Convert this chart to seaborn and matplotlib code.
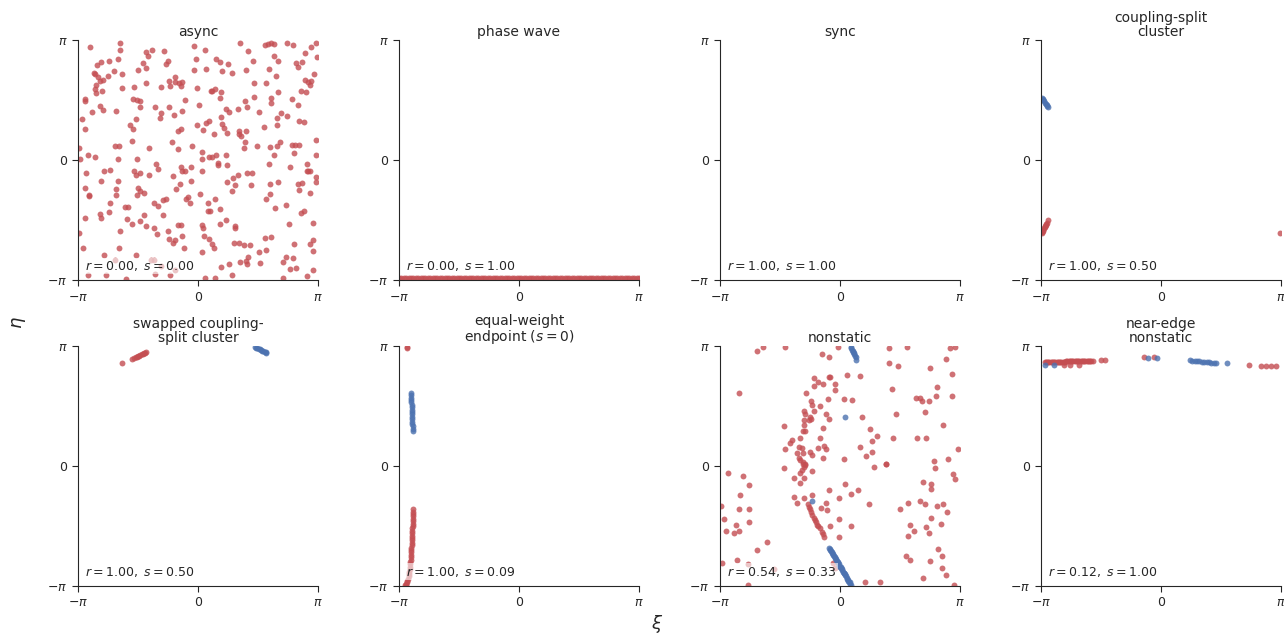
import numpy as np
import matplotlib
matplotlib.use("Agg")
import matplotlib.pyplot as plt
import seaborn as sns

# all values in units of pi (xi, eta)

# async (red only)
async_xi = [-0.90, -0.65, -0.65, -0.43, -0.38, -0.42, -0.28, -0.03, 0.06, 0.35, 0.42, 0.56, 0.58, 0.61, 0.63,
            0.74, 0.79, 0.89, 0.94, 0.98, 0.99, 0.63, 0.67, 0.82, 0.87, 0.83, 0.46, 0.15, 0.18, 0.25, -0.02,
            -0.25, -0.27, -0.46, -0.67, -0.74, -0.81, -0.84, -0.87, -0.86, -0.83, -0.82, -0.79, -0.75, -0.70,
            -0.63, -0.50, -0.43, -0.03, 0.07, 0.20, 0.28, 0.40, 0.59, 0.65, 0.97, 0.89, 0.92, 0.93, 0.86, 0.67,
            0.57, 0.47, -0.85, -0.86, -0.85, -0.80, -0.94, -0.94, -0.63, -0.53, -0.43, -0.31, -0.24, -0.23,
            -0.19, -0.19, -0.16, -0.13, -0.14, -0.01, 0.11, 0.12, 0.14, 0.19, 0.18, -0.11, 0.01, -0.54, -0.51,
            -0.48, -0.48, -0.36, -0.24, -0.13, -0.20, -0.31, -0.32, -0.52, -0.68, -0.79, -0.82, -0.88, -0.97,
            -0.94, -0.57, -0.54, -0.55, -0.69, -0.66, -0.41, -0.22, -0.17, -0.17, -0.14, -0.05, 0.03, -0.01,
            0.07, 0.09, 0.04, 0.13, 0.19, 0.20, 0.22, 0.24, 0.23, 0.26, 0.33, 0.39, 0.41, 0.47, 0.51, 0.61,
            0.61, 0.78, 0.83, 0.69, 0.74, 0.66, 0.66, 0.84, 0.88, 0.55, 0.34, 0.34, 0.36, 0.40, 0.39, 0.38,
            0.49, 0.60, 0.66, 0.68, 0.78, 0.81, 0.84, 0.80, 0.63, 0.98, 0.98, 0.23, 0.15, 0.12, 0.09, 0.03,
            -0.67, -0.51, -0.86, -0.92, -0.98, -0.99, 0.90, 0.94,
            -0.93, -0.78, -0.73, -0.53, -0.52, -0.48, -0.41, -0.35, -0.33, -0.21, -0.14, -0.13, -0.11, -0.06,
            0.03, 0.17, 0.17, 0.24, 0.33, 0.29, 0.24, 0.41, 0.45, 0.44, 0.59, 0.60, 0.67, 0.77, 0.83, 0.87,
            0.91, 0.91, 0.92, 0.93, 0.98, 0.98, 0.84, 0.93, -0.94, -0.91, -0.91, -0.81, -0.67, -0.68, -0.68,
            -0.73, -0.74, -0.82, -0.81, -0.94, -0.99, -0.96, -0.78, -0.66, -0.65, -0.59, -0.61, -0.58, -0.55,
            -0.48, -0.45, -0.43, -0.37, -0.34, -0.25, -0.24, -0.21, -0.19, -0.13, -0.17, -0.14, -0.12, -0.29,
            -0.33, -0.37, -0.29, -0.27, -0.18, -0.15, -0.06, 0.02, 0.03, 0.04, 0.05, 0.09, 0.12, 0.03, 0.13,
            0.18, 0.23, 0.31, 0.31, 0.30, 0.34, 0.38, 0.43, 0.42, 0.40, 0.41, 0.35, 0.26, 0.19, 0.28, 0.14,
            0.06, -0.19, -0.23, -0.31, -0.37, -0.39, -0.36, -0.52, -0.60, -0.69, -0.77, -0.92, 0.56, 0.61,
            0.57, 0.51, 0.52, 0.71, 0.73, 0.79, 0.77, 0.82, 0.96, 0.96, 0.93, 0.80, 0.76, 0.86, 0.88, 0.96,
            0.64, 0.73, 0.57, 0.60, 0.71, 0.91, 0.96, -0.48, -0.50, -0.45, -0.51, -0.10, -0.08, -0.07, 0.08,
            0.10, 0.08, 0.18, 0.28, 0.31, 0.14]
async_eta = [0.94, 0.98, 0.92, 0.90, 0.92, 0.87, 0.91, 0.95, 0.92, 0.98, 0.91, 0.96, 0.97, 0.98, 0.97,
             0.98, 0.96, 0.89, 0.94, 0.98, 0.86, 0.87, 0.83, 0.81, 0.82, 0.78, 0.83, 0.84, 0.82, 0.80, 0.84,
             0.83, 0.80, 0.81, 0.84, 0.83, 0.82, 0.79, 0.73, 0.72, 0.69, 0.66, 0.67, 0.70, 0.74,
             0.72, 0.75, 0.77, 0.75, 0.76, 0.74, 0.73, 0.75, 0.76, 0.70, 0.72, 0.67, 0.65, 0.63, 0.58, 0.57,
             0.64, 0.64, 0.63, 0.59, 0.56, 0.58, 0.51, 0.49, 0.60, 0.61, 0.64, 0.61, 0.66, 0.62,
             0.69, 0.65, 0.64, 0.65, 0.62, 0.60, 0.58, 0.58, 0.59, 0.57, 0.52, 0.50, 0.46, 0.51, 0.50,
             0.49, 0.44, 0.44, 0.44, 0.41, 0.38, 0.39, 0.35, 0.34, 0.41, 0.42, 0.45, 0.40, 0.34,
             0.26, 0.29, 0.26, 0.16, 0.12, 0.12, 0.10, 0.15, 0.09, 0.24, 0.26, 0.12, 0.07, 0.29,
             0.31, 0.33, 0.25, 0.22, 0.36, 0.30, 0.27, 0.23, 0.43, 0.40, 0.43, 0.49, 0.44, 0.53, 0.40, 0.52,
             0.48, 0.51, 0.46, 0.39, 0.37, 0.35, 0.29, 0.33, 0.32, 0.28, 0.24, 0.22, 0.20, 0.24, 0.15, 0.10,
             0.12, 0.11, 0.12, 0.15, 0.13, 0.13, 0.13, 0.06, 0.04, 0.17, 0.04, 0.04, 0.04, 0.03, 0.03, 0.01,
             0.01, 0.01, 0.03, 0.04, 0.01, 0.10, 0.57, 0.66,
             -0.11, -0.09, -0.08, -0.09, -0.12, -0.11, -0.12, -0.03, -0.07, -0.13, -0.06, -0.09, -0.09, -0.06,
             -0.09, -0.02, -0.04, -0.04, -0.12, -0.15, -0.18, -0.11, -0.11, -0.21, -0.03, -0.20, -0.18, -0.06,
             -0.20, -0.19, -0.09, -0.03, -0.09, -0.09, -0.14, -0.18, -0.25, -0.27, -0.23, -0.29, -0.30, -0.17,
             -0.17, -0.24, -0.29, -0.36, -0.43, -0.45, -0.48, -0.48, -0.61, -0.73, -0.79, -0.73, -0.59, -0.49,
             -0.39, -0.39, -0.53, -0.51, -0.46, -0.55, -0.57, -0.62, -0.59, -0.66, -0.69, -0.67, -0.63, -0.54,
             -0.54, -0.73, -0.46, -0.38, -0.36, -0.33, -0.32, -0.24, -0.20, -0.17, -0.28, -0.54, -0.57, -0.63,
             -0.66, -0.70, -0.77, -0.73, -0.53, -0.50, -0.55, -0.57, -0.69, -0.69, -0.71, -0.71, -0.81, -0.84,
             -0.87, -0.85, -0.87, -0.89, -0.96, -0.98, -0.98, -0.92, -0.96, -0.88, -0.83, -0.83, -0.95, -0.79,
             -0.99, -0.83, -0.96, -0.96, -0.65, -0.64, -0.75, -0.77, -0.86, -0.85, -0.81, -0.82, -0.91, -0.90,
             -0.76, -0.67, -0.70, -0.70, -0.53, -0.44, -0.42, -0.52, -0.40, -0.37, -0.32, -0.28, -0.98, -0.97,
             -0.92, -0.26, -0.23, -0.27, -0.29, -0.32, -0.31, -0.36, -0.36, -0.42, -0.42, -0.41, -0.26, -0.21,
             -0.32]

# phase wave (dense red line along the bottom edge)
wave_xi = [-1.00, -0.98, -0.96, -0.94, -0.92, -0.90, -0.88, -0.86, -0.84, -0.82, -0.80, -0.78, -0.76, -0.74,
           -0.72, -0.70, -0.68, -0.66, -0.64, -0.62, -0.60, -0.58, -0.56, -0.54, -0.52, -0.50, -0.48, -0.46,
           -0.44, -0.42, -0.40, -0.38, -0.36, -0.34, -0.32, -0.30, -0.28, -0.26, -0.24, -0.22, -0.20, -0.18,
           -0.16, -0.14, -0.12, -0.10, -0.08, -0.06, -0.04, -0.02, 0.00, 0.02, 0.04, 0.06, 0.08, 0.10, 0.12,
           0.14, 0.16, 0.18, 0.20, 0.22, 0.24, 0.26, 0.28, 0.30, 0.32, 0.34, 0.36, 0.38, 0.40, 0.42, 0.44,
           0.46, 0.48, 0.50, 0.52, 0.54, 0.56, 0.58, 0.60, 0.62, 0.64, 0.66, 0.68, 0.70, 0.72, 0.74, 0.76,
           0.78, 0.80, 0.82, 0.84, 0.86, 0.88, 0.90, 0.92, 0.94, 0.96, 0.98, 1.00]
wave_eta = [-0.98, -0.98, -0.98, -0.98, -0.98, -0.98, -0.98, -0.98, -0.98, -0.98, -0.98, -0.98, -0.98, -0.98,
            -0.98, -0.98, -0.98, -0.98, -0.98, -0.98, -0.98, -0.98, -0.98, -0.98, -0.98, -0.98, -0.98, -0.98,
            -0.98, -0.98, -0.98, -0.98, -0.98, -0.98, -0.98, -0.98, -0.98, -0.98, -0.98, -0.98, -0.98, -0.98,
            -0.98, -0.98, -0.98, -0.98, -0.98, -0.98, -0.98, -0.98, -0.98, -0.98, -0.98, -0.98, -0.98, -0.98,
            -0.98, -0.98, -0.98, -0.98, -0.98, -0.98, -0.98, -0.98, -0.98, -0.98, -0.98, -0.98, -0.98, -0.98,
            -0.98, -0.98, -0.98, -0.98, -0.98, -0.98, -0.98, -0.98, -0.98, -0.98, -0.98, -0.98, -0.98, -0.98,
            -0.98, -0.98, -0.98, -0.98, -0.98, -0.98, -0.98, -0.98, -0.98, -0.98, -0.98, -0.98, -0.98, -0.98,
            -0.98, -0.98, -0.98]

# coupling-split cluster
split_red_xi = [-0.995, -0.99, -0.985, -0.98, -0.975, -0.97, -0.965, -0.96, -0.955, -0.95, -0.945, 0.99]
split_red_eta = [-0.61, -0.60, -0.59, -0.58, -0.57, -0.56, -0.55, -0.54, -0.53, -0.52, -0.50, -0.61]
split_blue_xi = [-0.994, -0.987, -0.98, -0.973, -0.967, -0.96, -0.953, -0.947, -0.942]
split_blue_eta = [0.52, 0.51, 0.50, 0.49, 0.48, 0.47, 0.46, 0.45, 0.44]

# swapped coupling-split cluster
swap_red_xi = [-0.63, -0.55, -0.53, -0.52, -0.51, -0.50, -0.49, -0.48, -0.47, -0.46, -0.45, -0.44, -0.43]
swap_red_eta = [0.86, 0.89, 0.90, 0.905, 0.91, 0.915, 0.92, 0.925, 0.93, 0.935, 0.94, 0.945, 0.95]
swap_blue_xi = [0.475, 0.485, 0.495, 0.505, 0.515, 0.525, 0.535, 0.545, 0.555, 0.565, 0.57]
swap_blue_eta = [0.99, 0.986, 0.982, 0.978, 0.973, 0.968, 0.963, 0.958, 0.953, 0.948, 0.945]

# equal-weight endpoint
equal_red_xi = [-0.936, -0.932, -0.880, -0.881, -0.882, -0.883, -0.884, -0.885, -0.886, -0.887, -0.888,
                -0.889, -0.890, -0.891, -0.892, -0.893, -0.894, -0.895, -0.896, -0.897, -0.898, -0.899,
                -0.900, -0.902, -0.904, -0.906, -0.908, -0.910, -0.913, -0.916, -0.920, -0.925, -0.930,
                -0.935, -0.940, -0.945, -0.950]
equal_red_eta = [0.99, 0.985, -0.36, -0.38, -0.40, -0.42, -0.44, -0.46, -0.48, -0.50, -0.52, -0.54, -0.56,
                 -0.58, -0.60, -0.62, -0.64, -0.66, -0.68, -0.70, -0.72, -0.74, -0.76, -0.78, -0.80, -0.82,
                 -0.84, -0.86, -0.88, -0.90, -0.92, -0.94, -0.96, -0.97, -0.98, -0.99, -0.99]
equal_blue_xi = [-0.903, -0.901, -0.899, -0.897, -0.896, -0.894, -0.893, -0.892, -0.891, -0.890, -0.889,
                 -0.889, -0.888, -0.888, -0.887, -0.887, -0.886]
equal_blue_eta = [0.61, 0.59, 0.57, 0.55, 0.53, 0.51, 0.49, 0.47, 0.45, 0.43, 0.41, 0.39, 0.37, 0.35, 0.33,
                  0.31, 0.29]

# nonstatic
non_red_xi = [-0.69, -0.64, -0.46, -0.15, -0.09, -0.02, 0.06, 0.17, 0.41, 0.56, 0.41, 0.48, 0.75, 0.88, 0.92,
              0.96, 0.93, 0.81, 0.93, 0.63, 0.67, 0.68, 0.74, 0.80, 0.71, 0.86, 0.43, 0.47, 0.10, 0.03, 0.18,
              0.25, 0.31, 0.27, 0.44, 0.64, 0.72, 0.98, 0.90, 0.78, 0.17, 0.27, 0.22, 0.03, 0.38, -0.84,
              -0.22, -0.18, -0.22, -0.14, -0.09, -0.08, -0.04, -0.04, -0.10, -0.28, -0.24, -0.23, -0.22, -0.17,
              -0.30, -0.29, -0.25, -0.24, -0.26, -0.30, -0.30, -0.31, -0.29, -0.33, -0.14, -0.12, -0.09, -0.40,
              -0.42, -0.46, -0.47, -0.34, -0.32, -0.36, -0.25, -0.23, -0.31, -0.34, -0.33, -0.31, -0.29, -0.18,
              -0.12, -0.14, -0.17, -0.13,
              -0.31, -0.30, -0.32, -0.29, -0.33, -0.30, -0.38, -0.33, -0.23, -0.47, -0.93, -0.81, -0.76, -0.83,
              -0.84, -0.76, -0.76, -0.97, -0.95, -0.88, -0.84, -0.87, -0.99, -0.61, -0.69, -0.86, -0.77, -0.98,
              -0.38, -0.36, -0.30, -0.23, -0.27, -0.25, -0.24, -0.23, -0.21, -0.19, -0.17, -0.15, -0.13, -0.16,
              -0.12, -0.11, -0.09, -0.01, 0.04, 0.09, 0.15, -0.08, -0.01, -0.01, 0.09, 0.24, 0.28, 0.38, 0.50,
              0.57, 0.67, 0.71, 0.81, 0.86, 0.89, 0.76, 0.84, 0.58, 0.57, 0.62, 0.72, 0.74, 0.69, 0.76, 0.76,
              0.79, 0.94, 0.96, 0.82, 0.85, 0.75, 0.55, 0.58, 0.85, 0.88, 0.69, -0.06, -0.04, 0.21, 0.33, 0.95,
              -0.77, -0.55, -0.26, -0.22, -0.20, -0.18, -0.14]
non_red_eta = [0.96, 0.99, 0.99, 0.93, 0.91, 0.99, 0.76, 0.75, 0.98, 0.99, 0.86, 0.83, 0.82, 0.89, 0.98,
               0.99, 0.77, 0.66, 0.58, 0.57, 0.57, 0.54, 0.54, 0.58, 0.45, 0.34, 0.64, 0.43, 0.55, 0.56, 0.41,
               0.31, 0.25, 0.21, 0.23, 0.23, 0.23, 0.14, 0.06, 0.04, 0.16, 0.12, 0.08, 0.06, 0.02, 0.61,
               0.73, 0.70, 0.67, 0.68, 0.74, 0.74, 0.68, 0.63, 0.56, 0.61, 0.54, 0.51, 0.46, 0.50,
               0.46, 0.43, 0.41, 0.39, 0.38, 0.38, 0.34, 0.29, 0.29, 0.23, 0.32, 0.43, 0.39, 0.22,
               0.19, 0.14, 0.33, 0.16, 0.15, 0.11, 0.12, 0.09, 0.11, 0.07, 0.05, 0.03, 0.02, 0.15,
               0.14, 0.07, 0.23, 0.17,
               0.02, -0.01, -0.03, 0.01, -0.06, -0.10, -0.10, -0.14, -0.04, -0.02, -0.06, -0.08, -0.16, -0.24,
               -0.36, -0.36, -0.47, -0.44, -0.54, -0.56, -0.54, -0.49, -0.33, -0.63, -0.70, -0.78, -0.82, -0.81,
               -0.26, -0.31, -0.27, -0.24, -0.32, -0.36, -0.38, -0.41, -0.45, -0.49, -0.52, -0.55, -0.59, -0.35,
               -0.31, -0.37, -0.20, -0.27, -0.15, -0.23, -0.20, -0.50, -0.44, -0.59, -0.50, -0.32, -0.01, 0.02,
               -0.36, -0.31, -0.29, -0.32, -0.33, -0.32, -0.38, -0.43, -0.48, -0.49, -0.58, -0.54, -0.51, -0.56,
               -0.13, -0.15, -0.19, -0.02, -0.07, -0.11, -0.69, -0.75, -0.79, -0.75, -0.78, -0.85, -0.91, -0.93,
               -0.81, -0.85, -0.97, -0.97, -0.99, -0.99, -0.86, -0.34, -0.43, -0.47, -0.50, -0.57]
non_blue_xi = [0.090, 0.095, 0.100, 0.105, 0.110, 0.115, 0.120, 0.125, 0.130, 0.130, 0.04, -0.23,
               -0.090, -0.080, -0.070, -0.060, -0.050, -0.040, -0.030, -0.020, -0.010, 0.000, 0.010, 0.020,
               0.030, 0.040, 0.050, 0.060, 0.070, 0.080, 0.090, -0.085, -0.075, -0.065, -0.055, -0.045,
               -0.035, -0.025, -0.015, -0.005, 0.005, 0.015, 0.025, 0.035, 0.045, 0.055, 0.065, 0.075, 0.085]
non_blue_eta = [0.99, 0.98, 0.97, 0.96, 0.95, 0.94, 0.93, 0.92, 0.91, 0.88, 0.41, -0.29,
                -0.68, -0.70, -0.72, -0.73, -0.75, -0.77, -0.78, -0.80, -0.82, -0.84, -0.85, -0.87, -0.89,
                -0.90, -0.92, -0.94, -0.96, -0.97, -0.99, -0.69, -0.71, -0.725, -0.74, -0.76, -0.775, -0.79,
                -0.81, -0.83, -0.845, -0.86, -0.88, -0.895, -0.91, -0.93, -0.95, -0.965, -0.98]

# near-edge nonstatic
edge_red_xi = [-0.97, -0.96, -0.95, -0.94, -0.93, -0.92, -0.91, -0.90, -0.89, -0.88, -0.87, -0.86, -0.85,
               -0.84, -0.83, -0.82, -0.81, -0.80, -0.79, -0.78, -0.77, -0.76, -0.75, -0.74, -0.73, -0.72,
               -0.71, -0.70, -0.69, -0.68, -0.67, -0.66, -0.65, -0.64, -0.63, -0.62, -0.61, -0.60, -0.59,
               -0.58, -0.57, -0.81, -0.76, -0.68, -0.50, -0.47, -0.14, -0.06, 0.73, 0.83, 0.875, 0.92, 0.96]
edge_red_eta = [0.867, 0.867, 0.868, 0.868, 0.868, 0.868, 0.869, 0.869, 0.869, 0.869, 0.870, 0.870, 0.870,
                0.870, 0.871, 0.871, 0.871, 0.871, 0.872, 0.872, 0.872, 0.872, 0.873, 0.873, 0.873, 0.873,
                0.874, 0.874, 0.874, 0.874, 0.875, 0.875, 0.875, 0.875, 0.876, 0.876, 0.876, 0.877, 0.877,
                0.877, 0.878, 0.84, 0.84, 0.845, 0.88, 0.88, 0.905, 0.905, 0.84, 0.83, 0.83, 0.83, 0.83]
edge_blue_xi = [-0.97, -0.89, -0.11, -0.03, 0.24, 0.26, 0.28, 0.30, 0.32, 0.34, 0.36, 0.38, 0.40, 0.42,
                0.44, 0.46, 0.55]
edge_blue_eta = [0.84, 0.84, 0.90, 0.90, 0.88, 0.878, 0.876, 0.874, 0.872, 0.870, 0.868, 0.866, 0.864,
                 0.862, 0.861, 0.86, 0.855]

titles = ["async", "phase wave", "sync", "coupling-split\ncluster",
          "swapped coupling-\nsplit cluster", "equal-weight\nendpoint ($s=0$)", "nonstatic",
          "near-edge\nnonstatic"]
r_vals = [0.00, 0.00, 1.00, 1.00, 1.00, 1.00, 0.54, 0.12]
s_vals = [0.00, 1.00, 1.00, 0.50, 0.50, 0.09, 0.33, 1.00]

red_sets = [(async_xi, async_eta), (wave_xi, wave_eta), ([], []), (split_red_xi, split_red_eta),
            (swap_red_xi, swap_red_eta), (equal_red_xi, equal_red_eta), (non_red_xi, non_red_eta),
            (edge_red_xi, edge_red_eta)]
blue_sets = [([], []), ([], []), ([], []), (split_blue_xi, split_blue_eta),
             (swap_blue_xi, swap_blue_eta), (equal_blue_xi, equal_blue_eta), (non_blue_xi, non_blue_eta),
             (edge_blue_xi, edge_blue_eta)]

sns.set_style("ticks")
plt.rcParams["font.family"] = ["DejaVu Sans"]
red = "#c44e52"
blue = "#4c72b0"

fig, axes = plt.subplots(2, 4, figsize=(12.84, 6.37), dpi=100)
fig.subplots_adjust(left=0.0607, right=0.9977, top=0.937, bottom=0.080, wspace=0.3375, hspace=0.275)

for i, ax in enumerate(axes.flat):
    rx, ry = red_sets[i]
    bx, by = blue_sets[i]
    if len(rx):
        sns.scatterplot(x=np.array(rx) * np.pi, y=np.array(ry) * np.pi, ax=ax, color=red,
                        s=18, linewidth=0, alpha=0.8)
    if len(bx):
        sns.scatterplot(x=np.array(bx) * np.pi, y=np.array(by) * np.pi, ax=ax, color=blue,
                        s=18, linewidth=0, alpha=0.8)
    ax.set_xlim(-np.pi, np.pi)
    ax.set_ylim(-np.pi, np.pi)
    ax.set_xticks([-np.pi, 0, np.pi])
    ax.set_xticklabels([r"$-\pi$", "0", r"$\pi$"])
    ax.set_yticks([-np.pi, 0, np.pi])
    ax.set_yticklabels([r"$-\pi$", "0", r"$\pi$"])
    ax.tick_params(labelsize=9, length=4)
    ax.set_title(titles[i], fontsize=10, pad=3, linespacing=1.0)
    ax.set_xlabel("")
    ax.set_ylabel("")
    ax.text(0.03, 0.03, rf"$r={r_vals[i]:.2f},\ s={s_vals[i]:.2f}$", transform=ax.transAxes,
            fontsize=9, ha="left", va="bottom",
            bbox=dict(facecolor="white", edgecolor="none", alpha=0.6, pad=1))
    sns.despine(ax=ax)

fig.text(0.512, 0.003, r"$\xi$", fontsize=13, ha="center", va="bottom")
fig.text(0.008, 0.493, r"$\eta$", fontsize=13, rotation=90, ha="left", va="center")

fig.savefig("out.png", dpi=100)
